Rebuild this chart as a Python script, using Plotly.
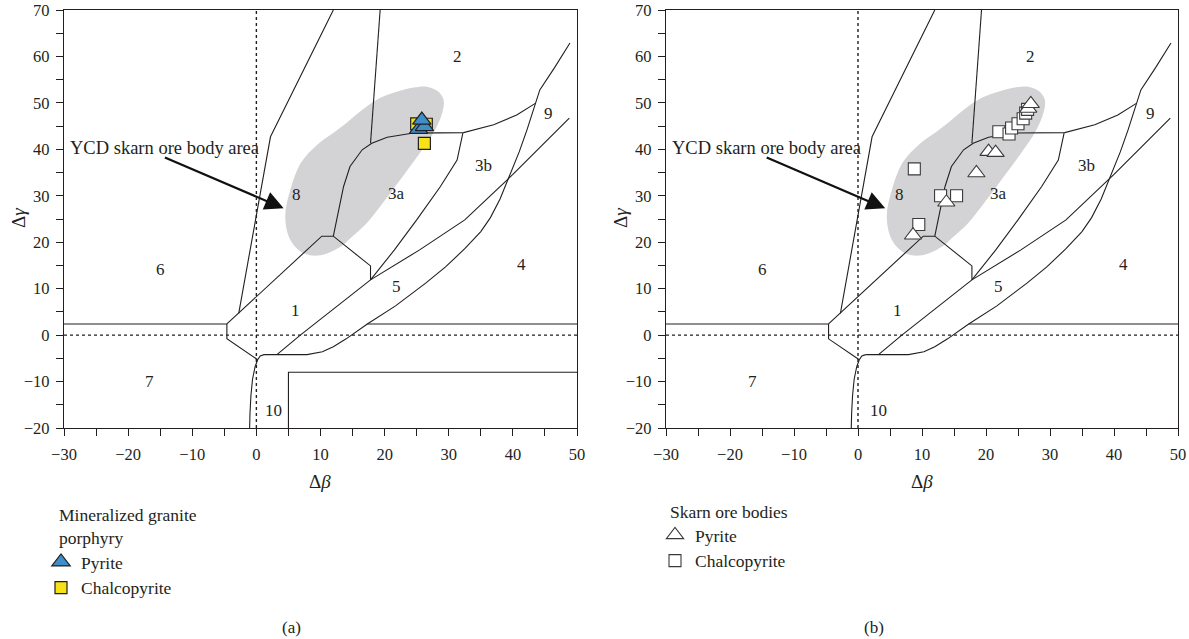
import plotly.graph_objects as go

# ---------------- data ----------------
# Boundary lines of the Δβ–Δγ classification diagram (shared by both panels)
line_left_x = [-30, -4.6, -4.6, 0.2]
line_left_y = [2.4, 2.4, -0.8, -5.3]

line_field10_x = [1.2, 0.6, 0.2, -0.2, -0.6, -0.85, -1.0, -1.05]
line_field10_y = [-4.2, -4.5, -5.3, -6.8, -9.5, -13.0, -17.0, -20.0]

line_lower_x = [1.2, 7.9, 10.3, 12.0, 14.0, 17.3, 21.7, 26.4, 29.5, 32.5, 35.0, 36.5,
                38.0, 39.6, 41.0, 42.2, 43.5, 44.2, 46.5, 48.9]
line_lower_y = [-4.2, -4.2, -3.6, -2.5, -0.8, 2.4, 6.3, 11.2, 14.7, 18.6, 22.3, 25.3,
                29.3, 34.6, 39.5, 44.2, 49.9, 52.8, 57.6, 62.9]

line_right2_x = [17.3, 50]
line_right2_y = [2.4, 2.4]

line_45_x = [3.2, 6.85, 17.8, 25.4, 32.5, 40.0, 48.8]
line_45_y = [-4.2, 0.0, 11.9, 18.3, 24.8, 34.6, 46.7]

line_3ab_x = [17.8, 21.5, 25.0, 28.7, 31.3, 32.2]
line_3ab_y = [11.9, 18.3, 24.8, 32.0, 37.7, 43.5]

line_field1_x = [-4.6, 10.2, 12.0, 17.8, 17.8]
line_field1_y = [2.4, 21.3, 21.3, 14.9, 11.9]

line_3a8_x = [12.0, 12.8, 13.6, 14.6, 16.5, 18.0, 20.4, 24.5, 28.0, 32.3, 37.0, 40.6, 43.5]
line_3a8_y = [21.3, 26.5, 32.0, 36.3, 39.9, 41.3, 42.6, 43.5, 43.6, 43.6, 45.3, 47.4, 49.9]

line_82_x = [17.8, 19.3]
line_82_y = [41.3, 70]

line_68_x = [-2.75, 2.2, 12.0]
line_68_y = [4.7, 42.7, 70]

rect_x = [5, 5, 50]
rect_y = [-20, -8, -8]

# YCD skarn ore body area outline
area_x = [14.0, 17.2, 19.5, 21.9, 24.5, 26.6, 28.3, 29.2, 29.0, 27.8, 25.5, 22.4, 19.3,
          17.2, 15.0, 13.1, 10.0, 7.4, 5.3, 4.5, 5.3, 7.0, 9.5, 12.0]
area_y = [45.6, 49.2, 51.2, 52.4, 53.3, 53.5, 52.5, 50.6, 48.0, 44.0, 39.2, 33.4, 27.7,
          24.1, 21.3, 19.0, 17.2, 17.6, 20.5, 25.5, 31.3, 37.2, 41.0, 43.5]

# Field labels
field_names = ["2", "9", "3b", "3a", "8", "1", "5", "4", "6", "7", "10"]
field_x_a = [31.3, 45.5, 35.4, 21.9, 6.3, 6.1, 21.9, 41.4, -15.0, -16.7, 2.7]
field_x_b = [26.9, 45.7, 35.7, 22.0, 6.5, 6.1, 22.0, 41.5, -14.9, -16.5, 3.2]
field_y = [60.0, 47.8, 36.6, 30.5, 30.2, 5.4, 10.4, 15.1, 14.2, -10.0, -16.2]

# (a) Mineralized granite porphyry
pyrite_a_x = [25.3, 26.2, 25.8]
pyrite_a_y = [44.3, 44.9, 46.3]
chalco_a_x = [25.0, 26.5, 26.2]
chalco_a_y = [45.5, 45.4, 41.3]

# (b) Skarn ore bodies
pyrite_b_x = [8.6, 13.8, 18.5, 20.4, 21.5, 26.6, 27.0]
pyrite_b_y = [21.5, 28.6, 34.9, 39.5, 39.3, 48.8, 49.8]
chalco_b_x = [8.8, 9.5, 12.9, 15.4, 22.0, 23.6, 24.0, 25.0, 25.8, 26.2, 26.5]
chalco_b_y = [35.8, 23.8, 30.0, 30.0, 43.8, 43.3, 44.6, 45.5, 46.6, 47.8, 48.6]

# ---------------- styling ----------------
FONT = "Liberation Serif"
INK = "#231f20"
AREA = "#d3d3d5"

W, H = 1189, 639
dom_a = [64 / W, 577 / W]
dom_b = [666 / W, 1178 / W]
dom_y = [(H - 428) / H, (H - 10) / H]

fig = go.Figure()


def add_panel(xa, ya, show_rect):
    kw = dict(xaxis=xa, yaxis=ya, showlegend=False, hoverinfo="skip")
    fig.add_trace(go.Scatter(x=area_x, y=area_y, mode="lines", fill="toself",
                             fillcolor=AREA, line=dict(color=AREA, width=0, shape="spline",
                                                       smoothing=1.0), **kw))
    # reference axes
    fig.add_trace(go.Scatter(x=[0, 0], y=[-20, 70], mode="lines",
                             line=dict(color=INK, width=1.4, dash="dot"), **kw))
    fig.add_trace(go.Scatter(x=[-30, 50], y=[0, 0], mode="lines",
                             line=dict(color=INK, width=1.4, dash="dot"), **kw))
    lines = [(line_left_x, line_left_y), (line_field10_x, line_field10_y),
             (line_lower_x, line_lower_y), (line_right2_x, line_right2_y),
             (line_45_x, line_45_y), (line_3ab_x, line_3ab_y),
             (line_field1_x, line_field1_y), (line_3a8_x, line_3a8_y),
             (line_82_x, line_82_y), (line_68_x, line_68_y)]
    if show_rect:
        lines.append((rect_x, rect_y))
    for lx, ly in lines:
        fig.add_trace(go.Scatter(x=lx, y=ly, mode="lines",
                                 line=dict(color=INK, width=1.1), **kw))


add_panel("x", "y", True)
add_panel("x2", "y2", False)

# data points
fig.add_trace(go.Scatter(x=chalco_a_x, y=chalco_a_y, mode="markers", name="Chalcopyrite",
                         xaxis="x", yaxis="y", legend="legend", legendrank=2,
                         marker=dict(symbol="square", size=12, color="#f7e217",
                                     line=dict(color=INK, width=1.2))))
fig.add_trace(go.Scatter(x=pyrite_a_x, y=pyrite_a_y, mode="markers", name="Pyrite",
                         xaxis="x", yaxis="y", legend="legend", legendrank=1,
                         marker=dict(symbol="triangle-up", size=16, color="#3d8ec9",
                                     line=dict(color=INK, width=1.2))))
fig.add_trace(go.Scatter(x=chalco_b_x, y=chalco_b_y, mode="markers", name="Chalcopyrite",
                         xaxis="x2", yaxis="y2", legend="legend2", legendrank=2,
                         marker=dict(symbol="square", size=12, color="white",
                                     line=dict(color="#3a3a3a", width=1.1))))
fig.add_trace(go.Scatter(x=pyrite_b_x, y=pyrite_b_y, mode="markers", name="Pyrite",
                         xaxis="x2", yaxis="y2", legend="legend2", legendrank=1,
                         marker=dict(symbol="triangle-up", size=15, color="white",
                                     line=dict(color="#3a3a3a", width=1.1))))

annotations = []
for xr, yr, fx in [("x", "y", field_x_a), ("x2", "y2", field_x_b)]:
    for name, x, y in zip(field_names, fx, field_y):
        annotations.append(dict(x=x, y=y, xref=xr, yref=yr, text=name, showarrow=False,
                                font=dict(family=FONT, size=17, color=INK)))
    annotations.append(dict(x=-29.4, y=40.2, xref=xr, yref=yr, xanchor="left",
                            text="YCD skarn ore body area", showarrow=False,
                            font=dict(family=FONT, size=18.5, color=INK)))
    annotations.append(dict(x=4.25, y=27.3, xref=xr, yref=yr, ax=-14.5, ay=38.4,
                            axref=xr, ayref=yr, text="", showarrow=True,
                            arrowhead=2, arrowsize=1.7, arrowwidth=2.2, arrowcolor="#111"))


def paper_text(text, px, py, size, **extra):
    opts = dict(x=px / W, y=1 - py / H, xref="paper", yref="paper", text=text,
                showarrow=False, xanchor="center", yanchor="middle",
                font=dict(family=FONT, size=size, color=INK))
    opts.update(extra)
    annotations.append(opts)


# axis titles
for xpos in (18, 620):
    paper_text("Δ<i>γ</i>", xpos, 218, 19, textangle=-90)
for xpos in (320, 922):
    paper_text("Δ<i>β</i>", xpos, 481, 19)

# legend headings
paper_text("Mineralized granite<br>porphyry", 57, 526, 17.5, xanchor="left", align="left")
paper_text("Skarn ore bodies", 668, 512, 17.5, xanchor="left", align="left")

# panel captions
paper_text("(a)", 291, 627, 17)
paper_text("(b)", 874, 627, 17)

tickfont = dict(family=FONT, size=16.5, color=INK)


def common_axis():
    return dict(showline=True, mirror=True, linecolor=INK, linewidth=1.3,
                ticks="outside", ticklen=7, tickwidth=1.2, tickcolor=INK,
                minor=dict(dtick=5, ticks="outside", ticklen=7, tickwidth=1.2, tickcolor=INK),
                showgrid=False, zeroline=False, tickfont=tickfont, automargin=False,
                dtick=10, tick0=0)


def xaxis(domain, anchor):
    return dict(domain=domain, anchor=anchor, range=[-30, 50], ticklabelstandoff=4,
                **common_axis())


def yaxis(domain, anchor):
    return dict(domain=domain, anchor=anchor, range=[-20, 70], ticklabelstandoff=3,
                **common_axis())


legend_common = dict(xanchor="left", yanchor="top", bgcolor="rgba(0,0,0,0)",
                     font=dict(family=FONT, size=17.5, color=INK),
                     tracegroupgap=0, itemwidth=30)

fig.update_layout(
    width=W, height=H, margin=dict(l=0, r=0, t=0, b=0),
    paper_bgcolor="white", plot_bgcolor="white",
    xaxis=xaxis(dom_a, "y"), yaxis=yaxis(dom_y, "x"),
    xaxis2=xaxis(dom_b, "y2"), yaxis2=yaxis(dom_y, "x2"),
    annotations=annotations,
    legend=dict(x=41 / W, y=1 - 544 / H, **legend_common),
    legend2=dict(x=655 / W, y=1 - 517 / H, **legend_common),
)

fig.write_html("out.html")
